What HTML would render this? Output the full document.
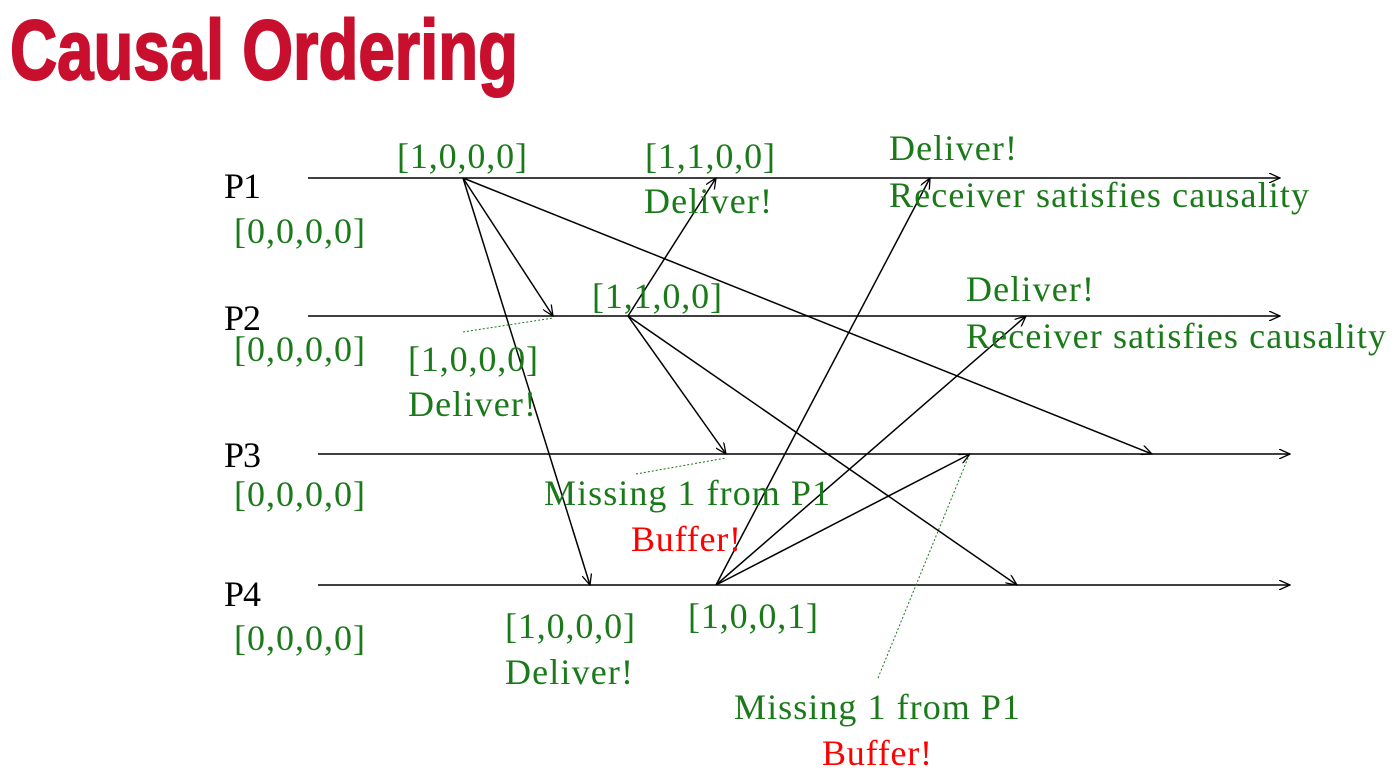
<!DOCTYPE html>
<html><head><meta charset="utf-8"><style>
html,body{margin:0;padding:0;background:#fff;width:1397px;height:775px;overflow:hidden}
svg{display:block}
.t{font-family:"Liberation Serif",serif;font-size:36px;fill:#1a7a1a}
.k{fill:#000}
.r{fill:#ff0000}
.title{font-family:"Liberation Sans Narrow","Liberation Sans",sans-serif;font-weight:bold;font-size:84px;fill:#c8102e;stroke:#c8102e;stroke-width:2}
</style></head><body>
<svg width="1397" height="775" viewBox="0 0 1397 775" xmlns="http://www.w3.org/2000/svg">
<defs><marker id="a" markerWidth="12" markerHeight="10" refX="11" refY="5" orient="auto" markerUnits="userSpaceOnUse"><path d="M0,0 L11,5 L0,10" fill="none" stroke="#000" stroke-width="1.3"/></marker></defs>
<text class="title" x="10" y="79" textLength="508" lengthAdjust="spacingAndGlyphs">Causal Ordering</text>
<g stroke="#000" stroke-width="1.5" fill="none" marker-end="url(#a)">
<line x1="308" y1="178" x2="1280" y2="178"/>
<line x1="308" y1="316" x2="1280" y2="316"/>
<line x1="318" y1="454" x2="1290" y2="454"/>
<line x1="318" y1="585" x2="1290" y2="585"/>
<line x1="463" y1="178" x2="553" y2="316"/>
<line x1="463" y1="178" x2="590" y2="585"/>
<line x1="463" y1="178" x2="1152" y2="454"/>
<line x1="628" y1="316" x2="716" y2="178"/>
<line x1="628" y1="316" x2="726" y2="454"/>
<line x1="628" y1="316" x2="1017" y2="585"/>
<line x1="716" y1="585" x2="930" y2="178"/>
<line x1="716" y1="585" x2="1026" y2="316"/>
<line x1="716" y1="585" x2="970" y2="454"/>
</g>
<g stroke="#1a7a1a" stroke-width="1" stroke-dasharray="2,2">
<line x1="463" y1="332" x2="553" y2="318"/>
<line x1="636" y1="474" x2="726" y2="458"/>
<line x1="878" y1="678" x2="968" y2="458"/>
</g>
<g lengthAdjust="spacingAndGlyphs">
<text class="t k" x="224" y="198" textLength="37">P1</text>
<text class="t k" x="224" y="330" textLength="37">P2</text>
<text class="t k" x="224" y="467" textLength="37">P3</text>
<text class="t k" x="224" y="606" textLength="37">P4</text>
<text class="t" x="234" y="243" textLength="131">[0,0,0,0]</text>
<text class="t" x="234" y="361" textLength="131">[0,0,0,0]</text>
<text class="t" x="234" y="506" textLength="131">[0,0,0,0]</text>
<text class="t" x="234" y="650" textLength="131">[0,0,0,0]</text>
<text class="t" x="397" y="168" textLength="130">[1,0,0,0]</text>
<text class="t" x="645" y="168" textLength="130">[1,1,0,0]</text>
<text class="t" x="644" y="213" textLength="128">Deliver!</text>
<text class="t" x="889" y="160" textLength="128">Deliver!</text>
<text class="t" x="889" y="207" textLength="420">Receiver satisfies causality</text>
<text class="t" x="592" y="308" textLength="130">[1,1,0,0]</text>
<text class="t" x="966" y="301" textLength="128">Deliver!</text>
<text class="t" x="966" y="348" textLength="420">Receiver satisfies causality</text>
<text class="t" x="408" y="371" textLength="130">[1,0,0,0]</text>
<text class="t" x="408" y="416" textLength="128">Deliver!</text>
<text class="t" x="544" y="505" textLength="286">Missing 1 from P1</text>
<text class="t r" x="631" y="551" textLength="110">Buffer!</text>
<text class="t" x="505" y="638" textLength="130">[1,0,0,0]</text>
<text class="t" x="505" y="684" textLength="128">Deliver!</text>
<text class="t" x="688" y="628" textLength="130">[1,0,0,1]</text>
<text class="t" x="734" y="719" textLength="286">Missing 1 from P1</text>
<text class="t r" x="822" y="765" textLength="110">Buffer!</text>
</g>
</svg>
</body></html>
